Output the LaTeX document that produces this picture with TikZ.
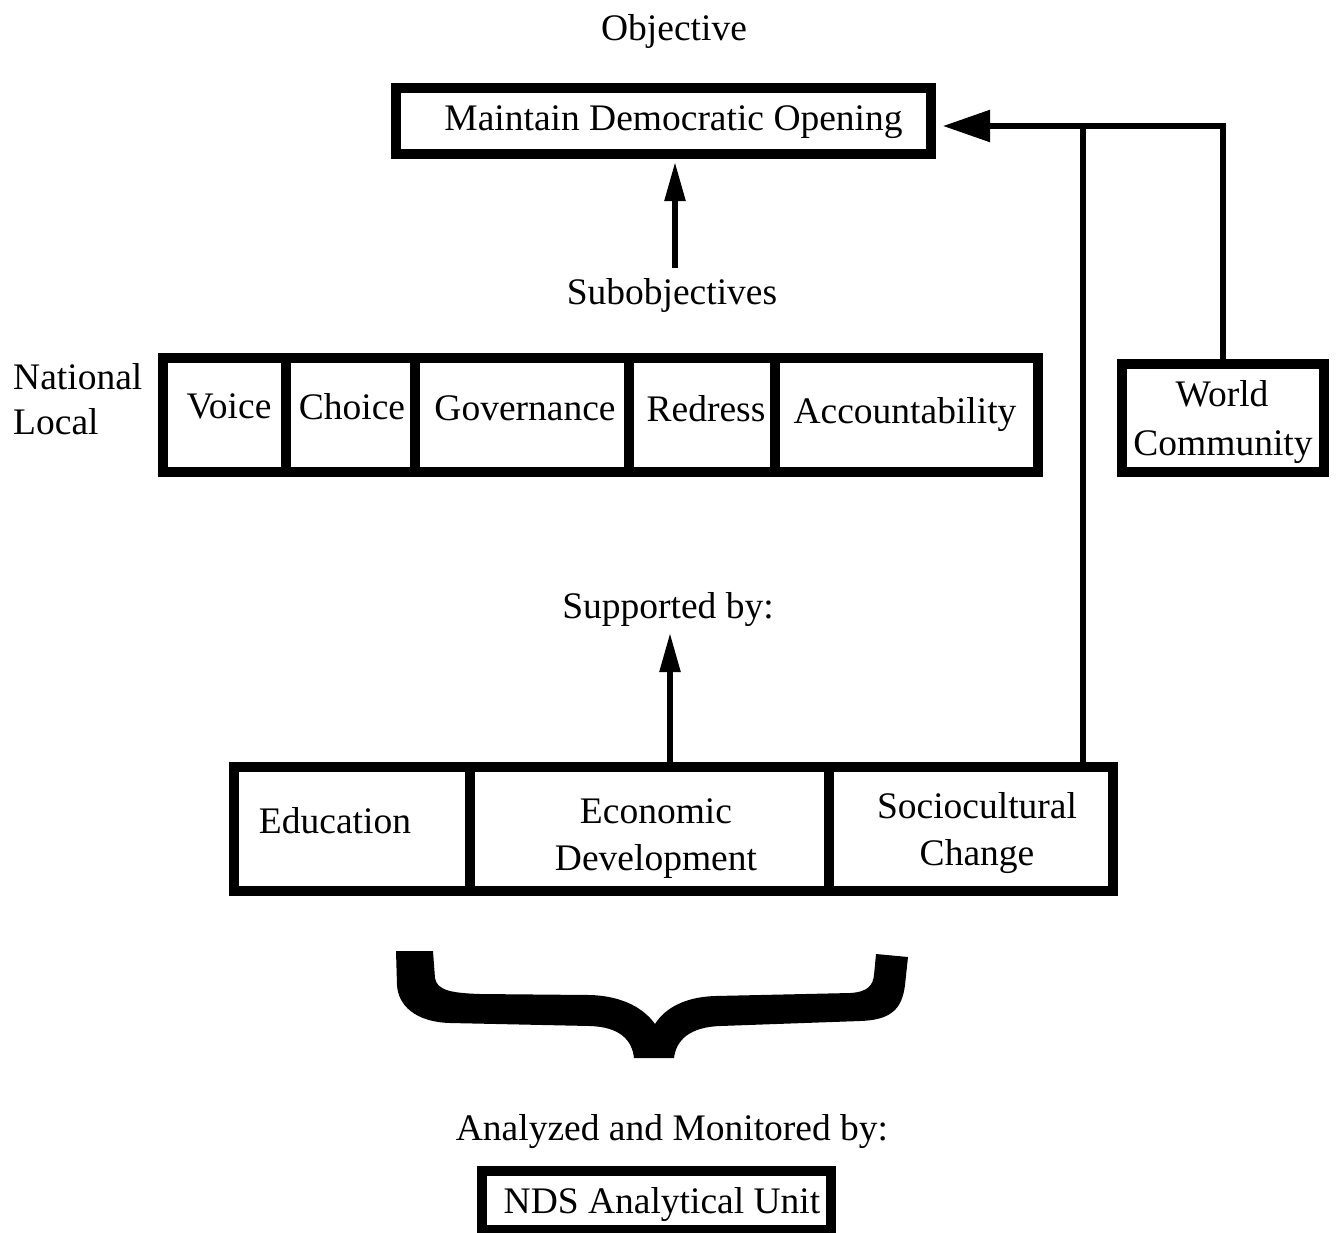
\documentclass[tikz,border=0pt]{standalone}
\usepackage{fontspec}
\setmainfont{Liberation Serif}
\usetikzlibrary{arrows.meta}
\newcommand{\bigfnt}{\fontsize{37.5pt}{45pt}\selectfont}
\tikzset{
  frame/.style={draw, line width=10pt, inner sep=0pt},
  lbl/.style={font=\bigfnt, inner sep=0pt, anchor=base},
  conn/.style={line width=5.5pt},
  arrV/.style={conn, -{Triangle[length=39pt,width=20pt]}},
  arrH/.style={conn, -{Triangle[length=47pt,width=31pt]}},
}
\begin{document}
\begin{tikzpicture}[x=1pt,y=-1pt]
\useasboundingbox (0,0) rectangle (1337,1232);
\fill[white] (0,0) rectangle (1337,1232);

% Objective
\node[lbl] (objlbl) at (674,40) {Objective};
\node[frame, minimum width=535pt, minimum height=66pt] (mainbox) at (663.5,121) {};
\node[lbl] (maintxt) at (673.5,130) {Maintain Democratic Opening};

% Subobjectives
\node[lbl] (sublbl) at (672,304) {Subobjectives};
\coordinate (a1) at (675,268);
\draw[arrV, shorten >=3pt] (a1) -- (a1 |- mainbox.south);

% National / Local
\node[lbl, anchor=base west] (natl) at (13,389) {National};
\node[lbl, anchor=base west] (locl) at (13,434) {Local};

% Subobjective row
\node[frame, minimum width=123pt, minimum height=114pt] (voice) at (224.5,415) {};
\node[frame, minimum width=129pt, minimum height=114pt] (choice) at (350.5,415) {};
\node[frame, minimum width=214pt, minimum height=114pt] (gov) at (522,415) {};
\node[frame, minimum width=146pt, minimum height=114pt] (redress) at (702,415) {};
\node[frame, minimum width=263pt, minimum height=114pt] (acct) at (906.5,415) {};
\node[lbl] (voicet) at (229,418) {Voice};
\node[lbl] (choicet) at (352,419) {Choice};
\node[lbl] (govt) at (525,420) {Governance};
\node[lbl] (redresst) at (706,421) {Redress};
\node[lbl] (acctt) at (905,423) {Accountability};

% World Community
\node[frame, minimum width=202pt, minimum height=108pt] (wc) at (1223,418) {};
\node[lbl] (wct1) at (1222,406) {World};
\node[lbl] (wct2) at (1223,455) {Community};

% Supported by
\node[lbl] (suplbl) at (668,618) {Supported by:};

% Bottom row
\node[frame, minimum width=236pt, minimum height=124pt] (edu) at (352,829) {};
\node[frame, minimum width=359pt, minimum height=124pt] (econ) at (649.5,829) {};
\node[frame, minimum width=284pt, minimum height=124pt] (socio) at (971,829) {};
\node[lbl] (edut) at (335,833) {Education};
\node[lbl] (econt1) at (656,823) {Economic};
\node[lbl] (econt2) at (656,870) {Development};
\node[lbl] (sociot1) at (977,818) {Sociocultural};
\node[lbl] (sociot2) at (977,865) {Change};

\coordinate (a2t) at (670,633);
\draw[arrV] (econ.north -| a2t) -- (a2t);

% Connectors to main objective
\coordinate (j) at (1083,126);
\draw[arrH, shorten >=7pt] (wc.north) |- (mainbox.east |- j);
\draw[conn] (socio.north -| j) -- (j);

% Brace
\fill[black] (396,951) -- (433,951) -- (435,978)
  .. controls (437,990) and (450,993) .. (480,994) -- (590,995)
  .. controls (625,996) and (645,1010) .. (655,1024)
  .. controls (665,1008) and (685,997) .. (715,996) -- (850,993)
  .. controls (868,992) and (873,985) .. (874,975) -- (876,954)
  -- (908,957) -- (905,985)
  .. controls (902,1010) and (890,1020) .. (860,1021) -- (720,1026)
  .. controls (690,1027) and (676,1040) .. (674,1058) -- (634,1058)
  .. controls (632,1040) and (620,1027) .. (590,1026) -- (450,1023)
  .. controls (415,1022) and (398,1005) .. (397,985) -- cycle;

% Analyzed and monitored
\node[lbl] (anlbl) at (672,1140) {Analyzed and Monitored by:};
\node[frame, minimum width=349pt, minimum height=59pt] (nds) at (656.5,1200.5) {};
\node[lbl] (ndst) at (662,1213) {NDS Analytical Unit};
\end{tikzpicture}
\end{document}
